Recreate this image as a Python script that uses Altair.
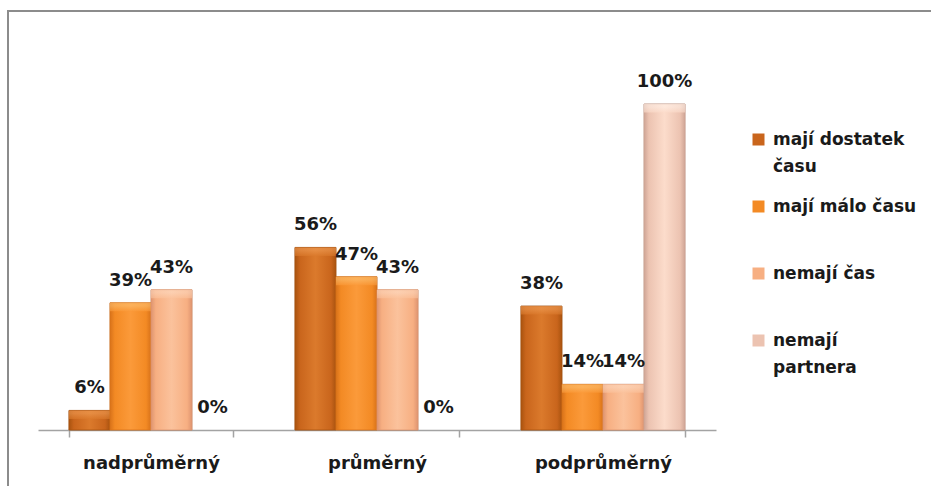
import altair as alt
import pandas as pd

# Categories on the x axis and the four answer groups
categories = ["nadprůměrný", "průměrný", "podprůměrný"]
series = ["mají dostatek času", "mají málo času", "nemají čas", "nemají partnera"]

# Shares (in %) per category, one list per answer group
dostatek_casu = [6, 56, 38]
malo_casu = [39, 47, 14]
nemaji_cas = [43, 43, 14]
nemaji_partnera = [0, 0, 100]

colors = ["#C9651C", "#F38A24", "#F7AF82", "#ECC3B1"]
# light / dark tones used for the bevelled bar fills
tones_light = ["#DB7A2C", "#FB9A3A", "#FBC29C", "#FCDCCB"]
tones_dark = ["#A9530F", "#D8721A", "#DE9470", "#CFA596"]
tones_top = ["#EE9A52", "#FDC070", "#FDD8BE", "#FFF1E8"]

rows = []
for name, vals in zip(series, [dostatek_casu, malo_casu, nemaji_cas, nemaji_partnera]):
    for cat, v in zip(categories, vals):
        rows.append({"kategorie": cat, "skupina": name, "podil": v, "popisek": f"{v}%"})
df = pd.DataFrame(rows)

FONT = "DejaVu Sans"
SIZE = 18

x_enc = alt.X(
    "kategorie:N",
    sort=categories,
    scale=alt.Scale(paddingInner=0.274, paddingOuter=0.137),
    axis=alt.Axis(
        title=None,
        labelAngle=0,
        tickBand="extent",
        tickSize=7,
        domainColor="#a3a3a3",
        tickColor="#a3a3a3",
        domainWidth=1.5,
        tickWidth=1.5,
        labelFont=FONT,
        labelFontSize=SIZE,
        labelFontWeight="bold",
        labelColor="#1a1a1a",
        labelPadding=17,
        labelBaseline="top",
    ),
)
xoff_enc = alt.XOffset("skupina:N", sort=series, scale=alt.Scale(paddingInner=0, paddingOuter=0))
y_enc = alt.Y("podil:Q", scale=alt.Scale(domain=[0, 100], nice=False), axis=None)

legend = alt.Legend(
    title=None,
    orient="none",
    legendX=712,
    legendY=27,
    direction="vertical",
    gridAlign="all",
    symbolType="square",
    symbolSize=144,
    symbolStrokeWidth=0,
    labelFont=FONT,
    labelFontSize=17,
    labelFontWeight="bold",
    labelColor="#1a1a1a",
    labelOffset=6,
    labelLimit=300,
    rowPadding=22,
    padding=0,
    labelExpr=(
        "datum.label == 'mají dostatek času' ? ['mají dostatek', 'času'] : "
        "datum.label == 'nemají partnera' ? ['nemají', 'partnera'] : datum.label"
    ),
)

base = alt.Chart(df).encode(x=x_enc, xOffset=xoff_enc, y=y_enc)
nonzero = base.transform_filter(alt.datum.podil > 0)

bars = nonzero.mark_bar(stroke="#5a2e10", strokeOpacity=0.25, strokeWidth=1).encode(
    color=alt.Color("skupina:N", sort=series, scale=alt.Scale(domain=series, range=colors), legend=legend)
)

# bevelled overlay per group: darker edges, lighter centre, light top edge
overlays = []
for name, light, dark, mid, top in zip(series, tones_light, tones_dark, colors, tones_top):
    grad = alt.Gradient(
        gradient="linear",
        x1=0, x2=1, y1=0, y2=0,
        stops=[
            alt.GradientStop(color=dark, offset=0),
            alt.GradientStop(color=mid, offset=0.12),
            alt.GradientStop(color=light, offset=0.5),
            alt.GradientStop(color=mid, offset=0.88),
            alt.GradientStop(color=dark, offset=1),
        ],
    )
    series_rows = nonzero.transform_filter(alt.datum.skupina == name)
    overlays.append(series_rows.mark_bar(color=grad, stroke=dark, strokeWidth=0.8))

    top_grad = alt.Gradient(
        gradient="linear",
        x1=0, x2=0, y1=0, y2=1,
        stops=[
            alt.GradientStop(color=top, offset=0),
            alt.GradientStop(color=top, offset=0.35),
            alt.GradientStop(color=light, offset=1),
        ],
    )
    overlays.append(
        series_rows.transform_calculate(spodek="max(datum.podil - 2.6, 0)")
        .mark_bar(color=top_grad, opacity=0.6, strokeWidth=0)
        .encode(y2=alt.Y2("spodek:Q"))
    )

labels = base.mark_text(
    baseline="alphabetic",
    dy=-17,
    font=FONT,
    fontSize=SIZE,
    fontWeight="bold",
    color="#1a1a1a",
).encode(text="popisek:N")

# chart-area frame
frame = alt.Chart(pd.DataFrame({"f": [0]})).mark_rect(
    fillOpacity=0, stroke="#8c8c8c", strokeWidth=2
).encode(x=alt.value(-30), y=alt.value(-93), x2=alt.value(1000), y2=alt.value(600))

chart = (
    alt.layer(frame, bars, *overlays, labels)
    .properties(
        width=678,
        height=326,
        autosize=alt.AutoSizeParams(type="none"),
        padding={"left": 38, "top": 104, "right": 215, "bottom": 56},
        background="white",
    )
    .configure(style={"guide-label": {"lineHeight": 27}})
    .configure_view(stroke=None)
)

chart.save("out.html", embed_options={"renderer": "svg", "actions": False})
